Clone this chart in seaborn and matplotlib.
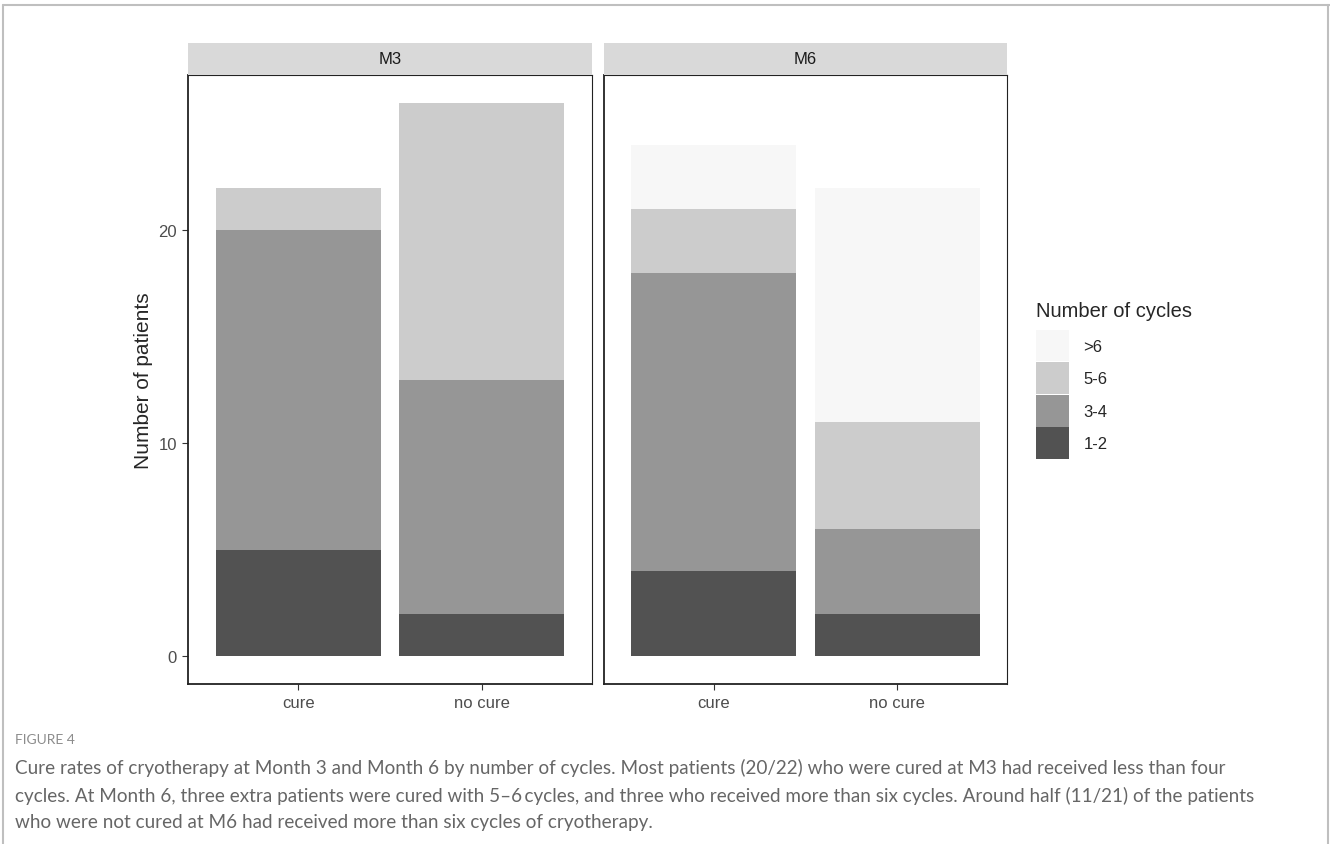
import pandas as pd
import numpy as np
import matplotlib
matplotlib.use('Agg')
import matplotlib.pyplot as plt
import seaborn as sns
from matplotlib.patches import Patch
from matplotlib.lines import Line2D

sns.set_style('white')
plt.rcParams['font.family'] = ['Liberation Sans', 'DejaVu Sans']

# data
months = ['M3', 'M6']
outcomes = ['cure', 'no cure']
cycles = ['>6', '5-6', '3-4', '1-2']   # top of stack first
m3_cure = [0, 2, 15, 5]
m3_nocure = [0, 13, 11, 2]
m6_cure = [3, 3, 14, 4]
m6_nocure = [11, 5, 4, 2]

colors = {'>6': '#f7f7f7', '5-6': '#cccccc', '3-4': '#969696', '1-2': '#525252'}

rows = []
for month, vals in [('M3', (m3_cure, m3_nocure)), ('M6', (m6_cure, m6_nocure))]:
    for outcome, counts in zip(outcomes, vals):
        for c, n in zip(cycles, counts):
            rows.append({'month': month, 'outcome': outcome, 'cycles': c, 'n': n})
df = pd.DataFrame(rows)

fig = plt.figure(figsize=(13.3, 8.45), dpi=100)
W, H = 1330, 845

panels = {'M3': (188, 592), 'M6': (604, 1007)}
ptop, pbot = 76, 685
strip_top = 44

for month in months:
    x0, x1 = panels[month]
    ax = fig.add_axes([x0 / W, 1 - pbot / H, (x1 - x0) / W, (pbot - ptop) / H])
    sub = df[df['month'] == month]
    sns.histplot(data=sub, x='outcome', hue='cycles', weights='n', multiple='stack',
                 discrete=True, shrink=0.9, hue_order=cycles, palette=colors,
                 alpha=1, linewidth=0, legend=False, ax=ax)
    ax.set_xlim(-0.6, 1.6)
    ax.set_ylim(-1.3, 27.3)
    ax.set_xticks([0, 1])
    ax.set_xticklabels(outcomes)
    ax.set_xlabel('')
    if month == 'M3':
        ax.set_yticks([0, 10, 20])
        ax.set_ylabel('Number of patients', fontsize=15, labelpad=4)
    else:
        ax.set_yticks([])
        ax.set_ylabel('')
    ax.tick_params(axis='both', labelsize=12, labelcolor='#4d4d4d', color='#333333',
                   length=4, width=0.8, direction='out', left=(month == 'M3'), bottom=True,
                   pad=4)
    for side in ['top', 'right']:
        ax.spines[side].set_linewidth(0.8)
        ax.spines[side].set_color('#222222')
    for side in ['left', 'bottom']:
        ax.spines[side].set_linewidth(1.3)
        ax.spines[side].set_color('#222222')

    # facet strip
    sax = fig.add_axes([x0 / W, 1 - ptop / H, (x1 - x0) / W, (ptop - strip_top) / H])
    sax.set_facecolor('#d9d9d9')
    sax.set_xticks([])
    sax.set_yticks([])
    for s in sax.spines.values():
        s.set_visible(False)
    sax.text(0.5, 0.5, month, ha='center', va='center', fontsize=12, color='#1a1a1a',
             transform=sax.transAxes)

# legend
handles = [Patch(facecolor=colors[c], edgecolor='none', label=c) for c in cycles]
leg = fig.legend(handles=handles, title='Number of cycles', loc='upper left',
                 bbox_to_anchor=(1036 / W, 1 - 302 / H), frameon=False,
                 fontsize=12, title_fontsize=14.5, handlelength=1.95, handleheight=2.55,
                 labelspacing=0.05, handletextpad=0.9, borderaxespad=0, borderpad=0)
leg._legend_box.align = 'left'
leg._legend_box.sep = 7

# caption
fig.text(15 / W, 1 - 740 / H, 'FIGURE 4', fontsize=10, color='#8c8c8c',
         family=['Lato', 'DejaVu Sans'], va='center')
caption = [
    'Cure rates of cryotherapy at Month 3 and Month 6 by number of cycles. Most patients (20/22) who were cured at M3 had received less than four',
    'cycles. At Month 6, three extra patients were cured with 5\u20136\u2009cycles, and three who received more than six cycles. Around half (11/21) of the patients',
    'who were not cured at M6 had received more than six cycles of cryotherapy.',
]
for i, line in enumerate(caption):
    fig.text(15 / W, 1 - (768 + 27.5 * i) / H, line, fontsize=13.6, color='#666666',
             family=['Lato', 'DejaVu Sans'], va='center')

# page frame
frame = dict(color='#bfbfbf', linewidth=1.5, transform=fig.transFigure)
fig.add_artist(Line2D([3 / W, 1], [1 - 6 / H, 1 - 6 / H], **frame))
fig.add_artist(Line2D([3 / W, 3 / W], [0, 1 - 6 / H], **frame))
fig.add_artist(Line2D([1328 / W, 1328 / W], [0, 1 - 6 / H], **frame))

fig.savefig('out.png', dpi=100)
